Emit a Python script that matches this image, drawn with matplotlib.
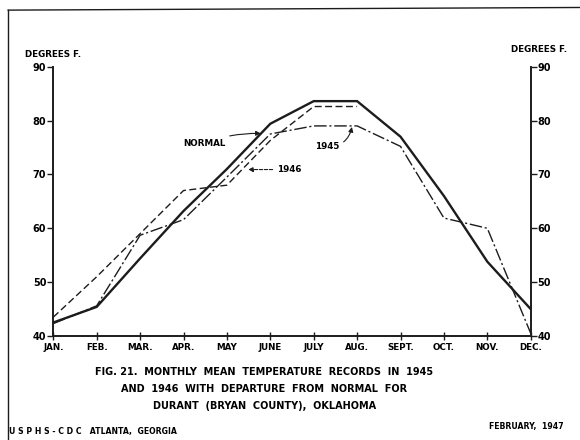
import matplotlib
matplotlib.use("Agg")
import matplotlib.pyplot as plt
import numpy as np

# data (degrees F)
months = ["JAN.", "FEB.", "MAR.", "APR.", "MAY", "JUNE",
          "JULY", "AUG.", "SEPT.", "OCT.", "NOV.", "DEC."]
normal = [42.5, 45.4, 54.4, 63.2, 71.0, 79.4, 83.6, 83.6, 77.0, 66.0, 53.8, 45.0]
temp_1945 = [42.3, 45.6, 58.7, 61.6, 69.5, 77.5, 79.0, 79.0, 75.2, 61.9, 60.0, 40.5]
temp_1946 = [43.5, 51.0, 59.0, 67.0, 68.0, 76.3, 82.6, 82.6]
yticks = [40, 50, 60, 70, 80, 90]

ink = "#1c1c1c"
plt.rcParams["font.family"] = ["DejaVu Sans"]
plt.rcParams["font.weight"] = "bold"

fig = plt.figure(figsize=(5.8, 4.4), dpi=100)
ax = fig.add_axes([0.0919, 0.2364, 0.8231, 0.6121])

x = np.arange(len(months))
ax.plot(x, normal, color=ink, lw=1.7, solid_joinstyle="miter")
ax.plot(x, temp_1945, color=ink, lw=1.0, dashes=(9, 2, 1.5, 2))
ax.plot(np.arange(len(temp_1946)), temp_1946, color=ink, lw=1.0, dashes=(5, 2.5))

ax.set_xlim(0, len(months) - 1)
ax.set_ylim(40, 90)
ax.set_xticks(x)
ax.set_xticklabels(months, fontsize=6.3)
ax.set_yticks(yticks)
ax.set_yticklabels([str(t) for t in yticks], fontsize=7)
ax.tick_params(axis="x", direction="inout", length=6, width=1.0, color=ink, pad=2)
ax.tick_params(axis="y", direction="out", length=4, width=1.0, color=ink, pad=1,
               right=True, labelright=True)
ax.spines["top"].set_visible(False)
for s in ["left", "right", "bottom"]:
    ax.spines[s].set_linewidth(1.4)
    ax.spines[s].set_color(ink)

# axis titles
fig.text(0.043, 0.866, "DEGREES F.", fontsize=6.3, ha="left", va="bottom")
fig.text(0.978, 0.877, "DEGREES F.", fontsize=6.3, ha="right", va="bottom")

# labels with arrows
ax.annotate("NORMAL", xy=(4.78, 77.6), xytext=(3.97, 75.8), fontsize=6.3,
            ha="right", va="center",
            arrowprops=dict(arrowstyle="-|>", color=ink, lw=0.8, mutation_scale=7,
                            connectionstyle="arc3,rad=-0.1", shrinkA=1, shrinkB=0))
ax.annotate("1946", xy=(4.49, 70.9), xytext=(5.15, 70.9), fontsize=6.3,
            ha="left", va="center",
            arrowprops=dict(arrowstyle="-|>", color=ink, lw=0.8, mutation_scale=7,
                            linestyle=(0, (3, 1.5)), shrinkA=1, shrinkB=0))
ax.annotate("1945", xy=(6.88, 78.8), xytext=(6.6, 75.1), fontsize=6.3,
            ha="right", va="center",
            arrowprops=dict(arrowstyle="-|>", color=ink, lw=0.8, mutation_scale=7,
                            connectionstyle="arc3,rad=0.4", shrinkA=1, shrinkB=0))

# caption
cap = ["FIG. 21.  MONTHLY  MEAN  TEMPERATURE  RECORDS  IN  1945",
       "AND  1946  WITH  DEPARTURE  FROM  NORMAL  FOR",
       "DURANT  (BRYAN  COUNTY),  OKLAHOMA"]
for i, line in enumerate(cap):
    fig.text(0.456, 0.155 - 0.039 * i, line, fontsize=7, ha="center", va="center")

fig.text(0.015, 0.01, "U S P H S - C D C   ATLANTA,  GEORGIA", fontsize=5.6,
         ha="left", va="bottom")
fig.text(0.972, 0.02, "FEBRUARY,  1947", fontsize=5.6, ha="right", va="bottom")

# page frame
fig.add_artist(plt.Line2D([0.014, 0.014], [0.0, 0.977], color=ink, lw=1.0,
                          transform=fig.transFigure))
fig.add_artist(plt.Line2D([0.014, 1.0], [0.977, 0.983], color=ink, lw=1.0,
                          transform=fig.transFigure))

fig.savefig("out.png", dpi=100)
